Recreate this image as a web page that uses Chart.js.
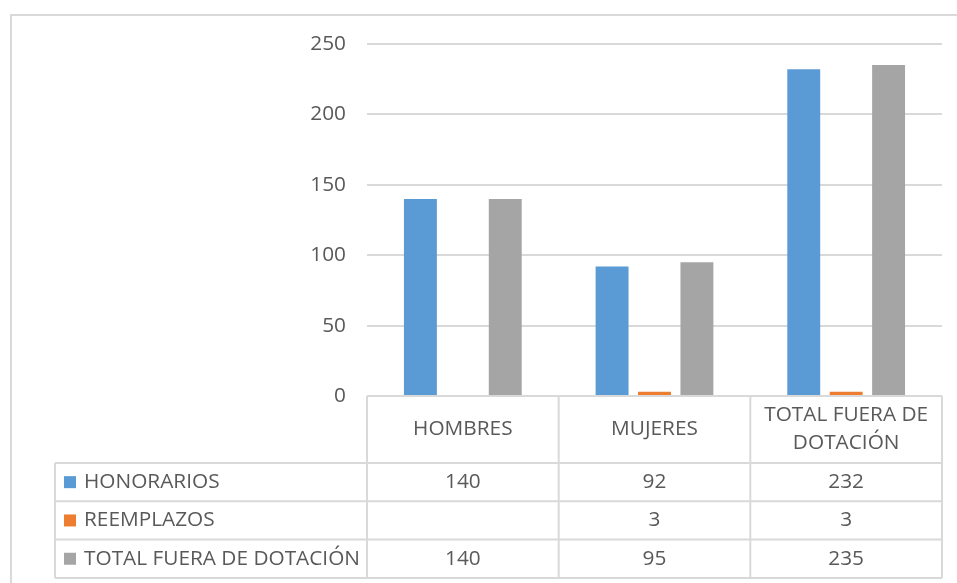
<!DOCTYPE html>
<html lang="es">
<head>
    <meta charset="UTF-8">
    <title>Personal fuera de dotación</title>
    <script src="https://cdn.jsdelivr.net/npm/chart.js"></script>
    <style>
        body { margin: 0; background: #fff; }
    </style>
</head>
<body>
    <canvas id="grafico" width="957" height="583"></canvas>

    <script>
        // Datos del gráfico
        const categorias = ['HOMBRES', 'MUJERES', 'TOTAL FUERA DE DOTACIÓN'];
        const series = ['HONORARIOS', 'REEMPLAZOS', 'TOTAL FUERA DE DOTACIÓN'];
        const honorarios = [140, 92, 232];
        const reemplazos = [null, 3, 3];
        const totalFuera = [140, 95, 235];
        const colores = ['#5b9bd5', '#ed7d31', '#a5a5a5'];

        const fuente = '20.8px "Open Sans"';
        const colorTexto = '#595959';
        const colorLinea = '#d9d9d9';

        // corta el texto en líneas que quepan en la celda
        function partir(ctx, texto, max) {
            const palabras = texto.split(' ');
            const lineas = [];
            let actual = '';
            palabras.forEach(p => {
                const prueba = actual ? actual + ' ' + p : p;
                if (ctx.measureText(prueba).width > max && actual) {
                    lineas.push(actual);
                    actual = p;
                } else {
                    actual = prueba;
                }
            });
            lineas.push(actual);
            return lineas;
        }

        function linea(ctx, x1, y1, x2, y2) {
            ctx.beginPath();
            ctx.moveTo(x1, y1);
            ctx.lineTo(x2, y2);
            ctx.stroke();
        }

        // Tabla de datos debajo del gráfico (como en Excel)
        const tablaDatos = {
            id: 'tablaDatos',
            beforeDraw(chart) {
                const ctx = chart.ctx;
                ctx.save();
                ctx.strokeStyle = colorLinea;
                ctx.lineWidth = 2;
                ctx.strokeRect(11, 15, chart.width, chart.height);
                ctx.restore();
            },
            afterDraw(chart) {
                const ctx = chart.ctx;
                const xs = chart.scales.x;
                const area = chart.chartArea;
                const ancho = xs.width / categorias.length;
                const izq = 55;
                const arriba = area.bottom;
                const altoCab = 67;
                const altoFila = 38.3;
                const yFilas = arriba + altoCab;
                const abajo = yFilas + altoFila * series.length;

                ctx.save();
                ctx.strokeStyle = colorLinea;
                ctx.lineWidth = 2;

                // líneas horizontales
                linea(ctx, area.left, arriba, area.right, arriba);
                for (let f = 0; f <= series.length; f++) {
                    const y = yFilas + altoFila * f;
                    linea(ctx, izq, y, area.right, y);
                }
                // líneas verticales
                linea(ctx, izq, yFilas, izq, abajo);
                for (let c = 0; c <= categorias.length; c++) {
                    const x = area.left + ancho * c;
                    linea(ctx, x, arriba, x, abajo);
                }

                ctx.font = fuente;
                ctx.fillStyle = colorTexto;
                ctx.textAlign = 'center';
                ctx.textBaseline = 'middle';

                // encabezados de categoría
                categorias.forEach((cat, i) => {
                    const cx = xs.getPixelForValue(i);
                    const lineas = partir(ctx, cat, ancho - 12);
                    const alto = 28;
                    const y0 = arriba + altoCab / 2 - (lineas.length - 1) * alto / 2;
                    lineas.forEach((l, k) => ctx.fillText(l, cx, y0 + k * alto));
                });

                // filas con leyenda y valores
                chart.data.datasets.forEach((ds, f) => {
                    const cy = yFilas + altoFila * f + altoFila / 2;
                    ctx.fillStyle = ds.backgroundColor;
                    ctx.fillRect(64, cy - 6, 12, 12);
                    ctx.fillStyle = colorTexto;
                    ctx.textAlign = 'left';
                    ctx.fillText(ds.label, 84, cy);
                    ctx.textAlign = 'center';
                    ds.data.forEach((v, i) => {
                        if (v !== null) ctx.fillText(String(v), xs.getPixelForValue(i), cy);
                    });
                });
                ctx.restore();
            }
        };

        new Chart(document.getElementById('grafico'), {
            type: 'bar',
            data: {
                labels: categorias,
                datasets: [
                    { label: series[0], data: honorarios, backgroundColor: colores[0] },
                    { label: series[1], data: reemplazos, backgroundColor: colores[1] },
                    { label: series[2], data: totalFuera, backgroundColor: colores[2] }
                ]
            },
            options: {
                responsive: false,
                animation: false,
                devicePixelRatio: 1,
                layout: { padding: { top: 44, right: 15, bottom: 187, left: 0 } },
                categoryPercentage: 0.664,
                barPercentage: 0.776,
                plugins: {
                    legend: { display: false },
                    tooltip: { enabled: false }
                },
                scales: {
                    x: { display: false },
                    y: {
                        min: 0,
                        max: 250,
                        ticks: {
                            stepSize: 50,
                            padding: 21,
                            color: colorTexto,
                            font: { family: 'Open Sans', size: 20.8 }
                        },
                        grid: { color: colorLinea, lineWidth: 2, drawTicks: false },
                        border: { display: false },
                        afterFit: scale => { scale.width = 367; }
                    }
                }
            },
            plugins: [tablaDatos]
        });
    </script>
</body>
</html>
